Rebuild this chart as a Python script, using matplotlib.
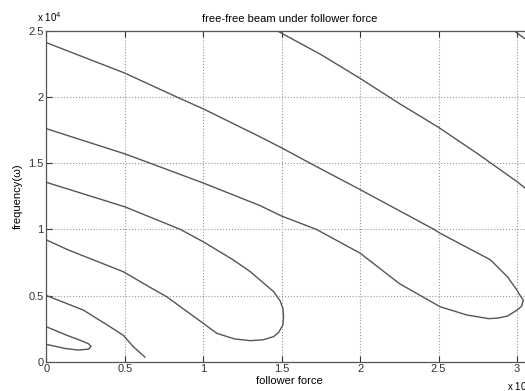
import matplotlib
matplotlib.use("Agg")
import matplotlib.pyplot as plt

plt.rcParams['font.family'] = ['Liberation Sans', 'DejaVu Sans']

# values in units of 10^4 (both axes)
# big loop: upper branch from (0, 2.41), lower branch back to (0, 1.76)
loop1_x = [0.0, 0.5, 0.83, 1.0, 1.36, 1.5, 1.68, 2.0, 2.47, 2.51, 2.83, 2.94, 3.0, 3.02, 3.04,
           3.03, 3.0, 2.94, 2.88, 2.82, 2.68, 2.51, 2.25, 2.0, 1.72, 1.5, 1.36, 1.0, 0.66, 0.5, 0.0]
loop1_y = [2.41, 2.18, 2.0, 1.91, 1.70, 1.615, 1.5, 1.30, 1.0, 0.97, 0.77, 0.64, 0.54, 0.5, 0.466,
           0.42, 0.39, 0.345, 0.33, 0.325, 0.353, 0.415, 0.59, 0.82, 1.0, 1.10, 1.18, 1.35, 1.5, 1.57, 1.76]
# middle loop: upper branch from (0, 1.355), lower branch back to (0, 0.92)
loop2_x = [0.0, 0.5, 0.853, 1.0, 1.19, 1.30, 1.448, 1.49, 1.508, 1.512,
           1.508, 1.48, 1.448, 1.38, 1.30, 1.2, 1.087, 1.0, 0.768, 0.661, 0.49, 0.14, 0.0]
loop2_y = [1.355, 1.17, 1.0, 0.906, 0.77, 0.68, 0.53, 0.46, 0.403, 0.34,
           0.277, 0.22, 0.189, 0.165, 0.159, 0.172, 0.214, 0.29, 0.49, 0.562, 0.68, 0.844, 0.92]
# open branch from (0, 0.50)
open_x = [0.0, 0.236, 0.406, 0.49, 0.555, 0.63]
open_y = [0.50, 0.39, 0.264, 0.20, 0.113, 0.033]
# small loop
small_x = [0.0, 0.13, 0.22, 0.27, 0.285, 0.27, 0.204, 0.12, 0.0]
small_y = [0.264, 0.20, 0.16, 0.135, 0.115, 0.095, 0.088, 0.10, 0.131]
# upper-right branches
upper_x = [1.47, 1.75, 2.0, 2.25, 2.5, 2.75, 3.0, 3.053]
upper_y = [2.5, 2.32, 2.14, 1.95, 1.77, 1.57, 1.36, 1.31]
corner_x = [2.98, 3.05]
corner_y = [2.5, 2.44]

xticks = [0, 0.5, 1, 1.5, 2, 2.5, 3]
xticklabels = ['0', '0.5', '1', '1.5', '2', '2.5', '3']
yticks = [0, 0.5, 1, 1.5, 2, 2.5]
yticklabels = ['0', '0.5', '1', '1.5', '2', '2.5']

W, H = 525, 391
fig = plt.figure(figsize=(W / 100, H / 100), dpi=100)
left_px, right_px = 46.3, 532.7
top_px, bot_px = 30.7, 361.7
ax = fig.add_axes([left_px / W, (H - bot_px) / H, (right_px - left_px) / W, (bot_px - top_px) / H])

lc = '#555555'
for xs, ys in [(loop1_x, loop1_y), (loop2_x, loop2_y), (open_x, open_y),
               (small_x, small_y), (upper_x, upper_y), (corner_x, corner_y)]:
    ax.plot(xs, ys, color=lc, lw=1.0, solid_capstyle='round', solid_joinstyle='round')

ax.set_xlim(0, 3.1)
ax.set_ylim(0, 2.5)
ax.set_xticks(xticks)
ax.set_xticklabels(xticklabels)
ax.set_yticks(yticks)
ax.set_yticklabels(yticklabels)
ax.tick_params(direction='in', length=4, width=0.8, top=True, right=True,
               labelsize=8, colors='#333333', pad=2)
ax.grid(True, linestyle=':', color='#999999', linewidth=0.8)
for s in ax.spines.values():
    s.set_color('#555555')
    s.set_linewidth(0.9)

ax.set_title('free-free beam under follower force', fontsize=8, pad=6)
ax.set_xlabel('follower force', fontsize=8, labelpad=1)
ax.set_ylabel('frequency(ω)', fontsize=8, labelpad=4)

fig.text(37 / W, 1 - 17 / H, r'x 10$^4$', fontsize=7, ha='left', va='center')
fig.text(507 / W, 1 - 386 / H, r'x 10$^4$', fontsize=7, ha='left', va='center')

fig.savefig('out.png', dpi=100)
